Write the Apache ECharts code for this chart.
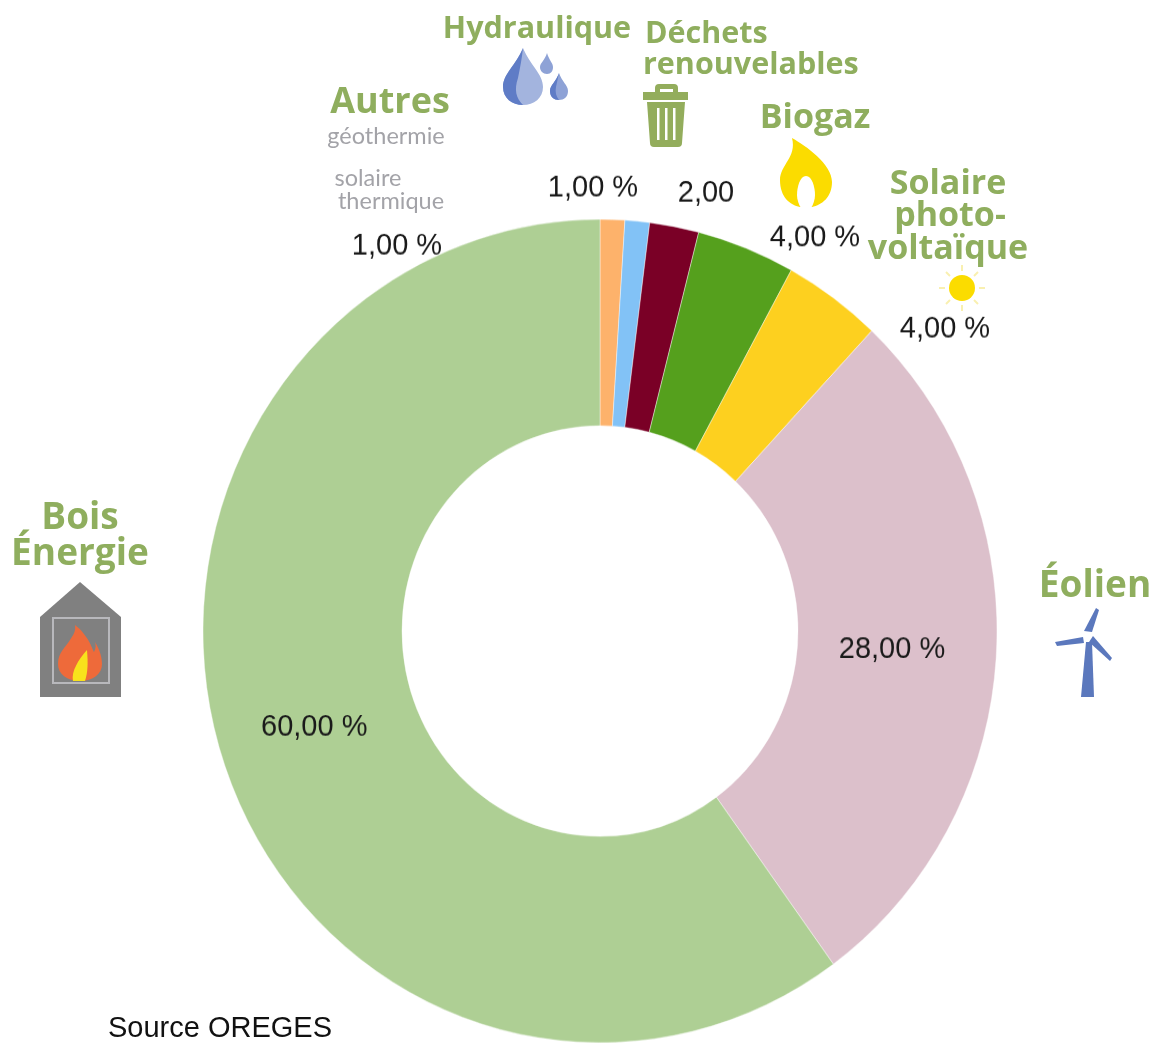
<!DOCTYPE html>
<html>
<head>
<meta charset="utf-8">
<title>Source OREGES</title>
<script src="https://cdn.jsdelivr.net/npm/echarts@6/dist/echarts.min.js"></script>
<style>
  html, body { margin: 0; padding: 0; background: #fff; overflow: hidden; }
  #page { position: relative; width: 1156px; height: 1044px; overflow: hidden; }
  #pie, #deco { position: absolute; left: 0; top: 0; width: 1156px; height: 1044px; }
  /* the donut in the picture is a bit taller than wide */
  #pie { transform: scaleY(1.037); transform-origin: 0 631px; }
</style>
</head>
<body>
<div id="page">
  <div id="pie"></div>
  <div id="deco"></div>
</div>
<script>
const categories = ['Autres', 'Hydraulique', 'Déchets renouvelables', 'Biogaz', 'Solaire photovoltaïque', 'Éolien', 'Bois Énergie'];
const shares = [1, 1, 2, 4, 4, 28, 60];
const shareLabels = ['1,00 %', '1,00 %', '2,00', '4,00 %', '4,00 %', '28,00 %', '60,00 %'];
const sliceColors = ['#fdb26b', '#82c2f6', '#7a0026', '#55a01d', '#fdd01f', '#dcc0cb', '#aecf94'];

const stretch = 1.037;
const green = '#8fae5e';
const greenFont = '"Open Sans", sans-serif';

// page y -> y inside the stretched pie div
function sy(y) {
  return 631 + (y - 631) / stretch;
}

// hand placed labels, in page pixels (Bois Énergie stays at the library's spot)
const labelSpots = {
  0: [397, 246],
  1: [593, 188],
  2: [706, 193],
  3: [815, 238],
  4: [945, 329],
  5: [892, 650]
};

const pieChart = echarts.init(document.getElementById('pie'), null, { width: 1156, height: 1044 });
pieChart.setOption({
  animation: false,
  series: [{
    type: 'pie',
    center: [600, 631],
    radius: [198, 397],
    startAngle: 90,
    avoidLabelOverlap: false,
    itemStyle: { borderColor: 'rgba(255,255,255,0.4)', borderWidth: 1 },
    label: {
      color: '#1a1a1a',
      fontFamily: '"Liberation Sans", Arial, sans-serif',
      fontSize: 29,
      formatter: function (p) { return shareLabels[p.dataIndex]; }
    },
    labelLine: { show: false },
    labelLayout: function (p) {
      const pos = labelSpots[p.dataIndex];
      if (!pos) return {};
      return { x: pos[0], y: sy(pos[1]), align: 'center', verticalAlign: 'middle' };
    },
    data: categories.map(function (name, i) {
      return {
        name: name,
        value: shares[i],
        itemStyle: { color: sliceColors[i] },
        label: { position: i < 5 ? 'outside' : 'inside' }
      };
    })
  }]
});

function title(text, x, y, size, align) {
  return {
    type: 'text', x: x, y: y,
    style: {
      text: text, fill: green, align: align || 'center', verticalAlign: 'middle',
      font: 'bold ' + size + 'px ' + greenFont
    }
  };
}
function note(text, x, y) {
  return {
    type: 'text', x: x, y: y,
    style: {
      text: text, fill: '#a3a3a8', align: 'center', verticalAlign: 'middle',
      font: '23.5px Lato, sans-serif'
    }
  };
}

// the graphic component has no plain svg path type, so each icon shape gets registered
var iconCount = 0;
function icon(d, fill) {
  const name = 'icon' + iconCount++;
  echarts.graphic.registerShape(name, echarts.graphic.extendPath(d));
  return { type: name, style: { fill: fill } };
}

var decoItems = [
  title('Hydraulique', 537, 29, 30.5),
  title('Déchets', 645, 34, 30.5, 'left'),
  title('renouvelables', 643, 65, 30.5, 'left'),
  title('Autres', 390, 103, 36),
  note('géothermie', 386, 136),
  note('solaire', 368, 178),
  note('thermique', 391, 201),
  title('Biogaz', 815, 118, 34),
  title('Solaire', 948, 184, 34),
  title('photo-', 950, 216, 34),
  title('voltaïque', 948, 249, 34),
  title('Bois', 80, 518, 37),
  title('Énergie', 80, 554, 37),
  title('Éolien', 1095, 586, 37),

  // drops
  icon('M523 48 C530 65 543 74 543 87 C543 98 534 105 523 105 C512 105 503 98 503 87 C503 74 516 65 523 48 Z', '#a3b4de'),
  icon('M523 48 C516 65 503 74 503 87 C503 98 512 105 523 105 C516 98 514 90 518 78 C520 68 522 58 523 48 Z', '#5f7cc6'),
  icon('M547 53 C549 60 553 63 553 67 C553 71 551 74 547 74 C543 74 540 71 540 67 C540 63 545 60 547 53 Z', '#8ea2d6'),
  icon('M559 73 C562 82 568 85 568 91 C568 97 564 100 559 100 C554 100 550 97 550 91 C550 85 556 82 559 73 Z', '#8ea2d6'),
  icon('M559 73 C556 82 550 85 550 91 C550 97 554 100 559 100 C556 96 555 92 556 87 C557 82 558 78 559 73 Z', '#5f7cc6'),

  // bin
  icon('M643 92 H655 V88 Q655 84 659 84 H674 Q678 84 678 88 V92 H688 V100 H643 Z M660 92 H673 V89 H660 Z', '#93ad5c'),
  icon('M647 102 H685 L682 143 Q682 147 678 147 H654 Q650 147 650 143 Z', '#93ad5c'),
  { type: 'rect', shape: { x: 657, y: 108, width: 2.5, height: 32 }, style: { fill: '#fff' } },
  { type: 'rect', shape: { x: 665, y: 108, width: 2.5, height: 32 }, style: { fill: '#fff' } },
  { type: 'rect', shape: { x: 673, y: 108, width: 2.5, height: 32 }, style: { fill: '#fff' } },

  // gas flame
  icon('M792 138 C806 146 832 164 832 182 C832 197 822 205 812 207 L800 207 C790 205 780 197 780 180 C780 165 797 157 792 138 Z', '#fbdc00'),
  icon('M806 176 C800 176 797 187 797 195 C797 200 799 205 801 208 H811 C813 205 815 200 815 195 C815 187 812 176 806 176 Z', '#fff'),

  // sun
  { type: 'circle', shape: { cx: 962, cy: 288, r: 13 }, style: { fill: '#fbdc00' } }
];
// sun rays
[[962, 265, 962, 271], [962, 305, 962, 311], [939, 288, 945, 288], [979, 288, 985, 288],
 [946, 272, 950, 276], [974, 300, 978, 304], [946, 304, 950, 300], [974, 276, 978, 272]].forEach(function (r) {
  decoItems.push({
    type: 'line',
    shape: { x1: r[0], y1: r[1], x2: r[2], y2: r[3] },
    style: { stroke: '#f9f0b0', lineWidth: 2 }
  });
});
decoItems = decoItems.concat([
  // house with fire
  { type: 'polygon', shape: { points: [[80, 582], [121, 617], [121, 697], [40, 697], [40, 617]] }, style: { fill: '#808080' } },
  { type: 'rect', shape: { x: 53, y: 618, width: 56, height: 65 }, style: { fill: 'none', stroke: '#b8b8bc', lineWidth: 2 } },
  icon('M75 625 C88 635 92 648 94 652 C96 648 96 645 95 642 C100 650 102 658 102 664 C102 674 93 681 80 681 C67 681 58 674 58 664 C58 652 66 647 70 640 C73 635 76 632 75 625 Z', '#ee6a3a'),
  icon('M87 650 C88 662 88 672 85 681 H73 C71 672 78 660 87 650 Z', '#f8e21c'),

  // wind turbine
  icon('M1086 642 H1092 L1094 697 H1081 Z', '#5b78bd'),
  icon('M1096 608 L1099 610 L1092 632 L1084 631 Z', '#5b78bd'),
  icon('M1055 642 L1083 637 L1084 643 L1057 646 Z', '#5b78bd'),
  icon('M1093 636 L1112 658 L1110 661 L1089 642 Z', '#5b78bd'),

  {
    type: 'text', x: 108, y: 1029,
    style: {
      text: 'Source OREGES', fill: '#111', align: 'left', verticalAlign: 'middle',
      font: '29px "Liberation Sans", Arial, sans-serif'
    }
  }
]);

const decoChart = echarts.init(document.getElementById('deco'), null, { width: 1156, height: 1044 });
decoChart.setOption({
  animation: false,
  graphic: decoItems
});
</script>
</body>
</html>
